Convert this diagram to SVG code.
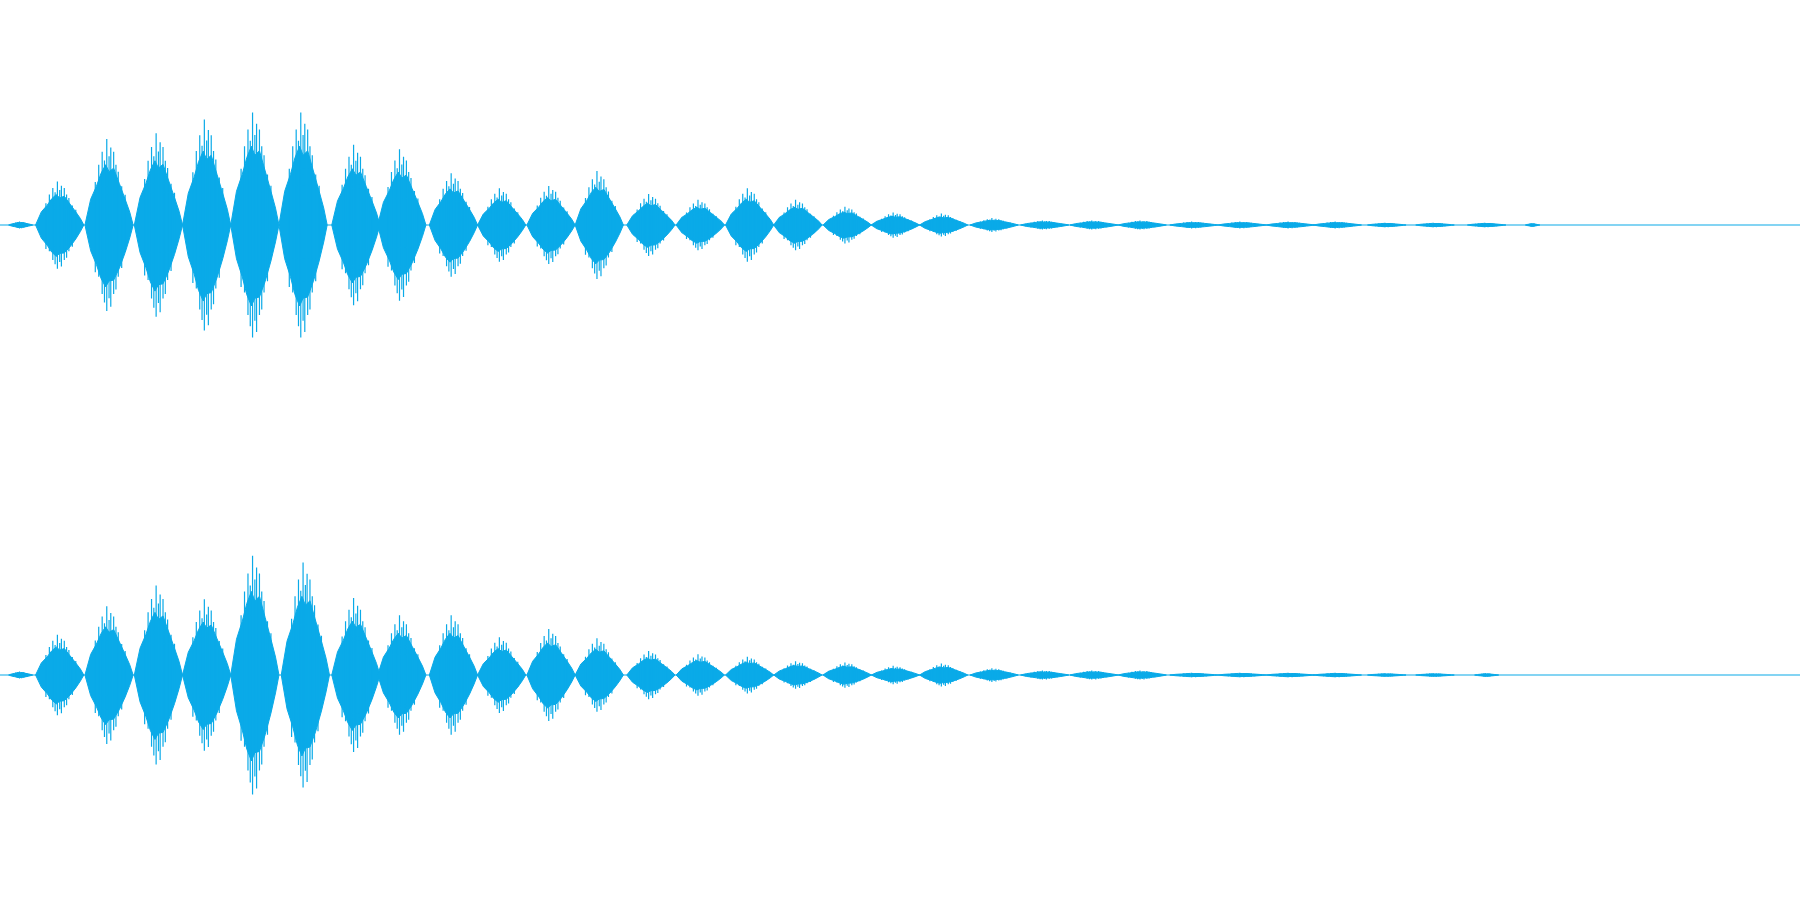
<svg xmlns="http://www.w3.org/2000/svg" width="1800" height="900" viewBox="0 0 1800 900">
<style>
.w{fill:#0aaae8;stroke:#0aaae8;stroke-width:1;vector-effect:non-scaling-stroke}
.s{fill:none;stroke:#0aaae8;stroke-width:1.2;vector-effect:non-scaling-stroke}
</style>
<defs>
<g id="b">
<polygon class="w" points="-21,0 -16,-0.3 -11,-0.45 -7,-0.6 -3,-0.7 0,-0.62 4,-0.66 9,-0.48 14,-0.3 18,-0.15 21,0 18,0.15 14,0.32 9,0.5 4,0.64 0,0.65 -3,0.72 -7,0.62 -11,0.46 -16,0.3"/>
<path class="s" d="M-12,-0.5V0.55M-9,-0.7V0.6M-6,-0.85V0.8M-4,-0.75V0.9M-2,-1V1M0,-0.8V0.85M1.5,-0.9V0.95M4,-0.85V0.8M6,-0.7V0.75M8,-0.62V0.6M11,-0.45V0.5M14,-0.35V0.3"/>
</g>
</defs>
<rect width="1800" height="900" fill="#fff"/>
<g transform="scale(1.148)">
<line class="s" x1="0" y1="196" x2="1568" y2="196"/>
<line class="s" x1="0" y1="588" x2="1568" y2="588"/>
<g id="top">
<use href="#b" transform="translate(18,196) scale(0.5,3)"/>
<use href="#b" transform="translate(52,196) scale(1,38)"/>
<use href="#b" transform="translate(95,196) scale(1,75)"/>
<use href="#b" transform="translate(138,196) scale(1,80)"/>
<use href="#b" transform="translate(180,196) scale(1,92)"/>
<use href="#b" transform="translate(222,196) scale(1,98)"/>
<use href="#b" transform="translate(264,196) scale(1,98)"/>
<use href="#b" transform="translate(310,196) scale(1,70)"/>
<use href="#b" transform="translate(350,196) scale(1,66)"/>
<use href="#b" transform="translate(395,196) scale(1,45)"/>
<use href="#b" transform="translate(437,196) scale(1,32)"/>
<use href="#b" transform="translate(480,196) scale(1,34)"/>
<use href="#b" transform="translate(522,196) scale(1,47)"/>
<use href="#b" transform="translate(567,196) scale(1,27)"/>
<use href="#b" transform="translate(610,196) scale(1,22)"/>
<use href="#b" transform="translate(653,196) scale(1,32)"/>
<use href="#b" transform="translate(695,196) scale(1,22)"/>
<use href="#b" transform="translate(738,196) scale(1,16)"/>
<use href="#b" transform="translate(780,196) scale(1,11)"/>
<use href="#b" transform="translate(822,196) scale(1,10)"/>
<use href="#b" transform="translate(866,196) scale(1,6)"/>
<use href="#b" transform="translate(910,196) scale(1,4)"/>
<use href="#b" transform="translate(953,196) scale(1,4)"/>
<use href="#b" transform="translate(995,196) scale(1,4)"/>
<use href="#b" transform="translate(1040,196) scale(1,3)"/>
<use href="#b" transform="translate(1082,196) scale(1,3)"/>
<use href="#b" transform="translate(1124,196) scale(1,3)"/>
<use href="#b" transform="translate(1165,196) scale(1,3)"/>
<use href="#b" transform="translate(1208,196) scale(0.8,2)"/>
<use href="#b" transform="translate(1250,196) scale(0.8,2)"/>
<use href="#b" transform="translate(1295,196) scale(0.8,2)"/>
<use href="#b" transform="translate(1335,196) scale(0.3,1.5)"/>
</g>
<g id="bottom">
<use href="#b" transform="translate(18,588) scale(0.5,3)"/>
<use href="#b" transform="translate(52,588) scale(1,35)"/>
<use href="#b" transform="translate(95,588) scale(1,60)"/>
<use href="#b" transform="translate(138,588) scale(1,78)"/>
<use href="#b" transform="translate(180,588) scale(1,66)"/>
<use href="#b" transform="translate(222,588) scale(1,104)"/>
<use href="#b" transform="translate(266,588) scale(1,98)"/>
<use href="#b" transform="translate(310,588) scale(1,67)"/>
<use href="#b" transform="translate(350,588) scale(1,52)"/>
<use href="#b" transform="translate(395,588) scale(1,52)"/>
<use href="#b" transform="translate(437,588) scale(1,33)"/>
<use href="#b" transform="translate(480,588) scale(1,40)"/>
<use href="#b" transform="translate(522,588) scale(1,32)"/>
<use href="#b" transform="translate(567,588) scale(1,21)"/>
<use href="#b" transform="translate(610,588) scale(1,18)"/>
<use href="#b" transform="translate(653,588) scale(1,16)"/>
<use href="#b" transform="translate(695,588) scale(1,12)"/>
<use href="#b" transform="translate(738,588) scale(1,11)"/>
<use href="#b" transform="translate(780,588) scale(1,8)"/>
<use href="#b" transform="translate(822,588) scale(1,10)"/>
<use href="#b" transform="translate(866,588) scale(1,6)"/>
<use href="#b" transform="translate(910,588) scale(1,4)"/>
<use href="#b" transform="translate(953,588) scale(1,4)"/>
<use href="#b" transform="translate(995,588) scale(1,4)"/>
<use href="#b" transform="translate(1040,588) scale(1,2)"/>
<use href="#b" transform="translate(1082,588) scale(1,2)"/>
<use href="#b" transform="translate(1124,588) scale(1,2)"/>
<use href="#b" transform="translate(1165,588) scale(1,2)"/>
<use href="#b" transform="translate(1208,588) scale(0.8,1.5)"/>
<use href="#b" transform="translate(1250,588) scale(0.8,1.5)"/>
<use href="#b" transform="translate(1295,588) scale(0.5,1.5)"/>
</g>
</g>
</svg>
